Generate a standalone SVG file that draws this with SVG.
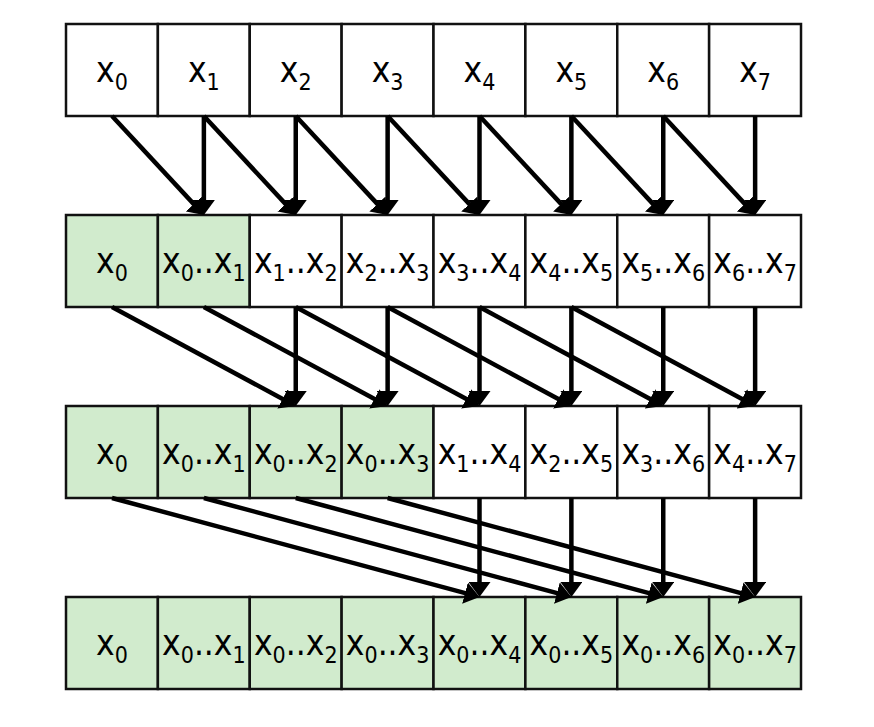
<svg xmlns="http://www.w3.org/2000/svg" width="874" height="727" viewBox="0 0 874 727">
<style>
.c{stroke:#111;stroke-width:2.5;fill:#fff}
.g{fill:#d1ebcd}
text{font-family:"DejaVu Sans Condensed","DejaVu Sans",sans-serif;font-stretch:condensed;font-size:35px;text-anchor:middle;fill:#000}
.s{font-size:23px}
.a line{stroke:#000;stroke-width:4.5;marker-end:url(#ah)}
</style>
<defs>
<marker id="ah" viewBox="0 0 15 22" markerWidth="15" markerHeight="22" refX="7" refY="11" markerUnits="userSpaceOnUse" orient="auto">
<path d="M0,0 L15,11 L0,22 z" fill="#000"/>
</marker>
</defs>
<rect width="874" height="727" fill="#fff"/>

<g id="row1">
<g id="r1c0"><rect class="c" x="66" y="24" width="91.875" height="92"/><text x="112" y="82">x<tspan class="s" dy="8">0</tspan></text></g>
<g id="r1c1"><rect class="c" x="157.875" y="24" width="91.875" height="92"/><text x="203.875" y="82">x<tspan class="s" dy="8">1</tspan></text></g>
<g id="r1c2"><rect class="c" x="249.75" y="24" width="91.875" height="92"/><text x="295.75" y="82">x<tspan class="s" dy="8">2</tspan></text></g>
<g id="r1c3"><rect class="c" x="341.625" y="24" width="91.875" height="92"/><text x="387.625" y="82">x<tspan class="s" dy="8">3</tspan></text></g>
<g id="r1c4"><rect class="c" x="433.5" y="24" width="91.875" height="92"/><text x="479.5" y="82">x<tspan class="s" dy="8">4</tspan></text></g>
<g id="r1c5"><rect class="c" x="525.375" y="24" width="91.875" height="92"/><text x="571.375" y="82">x<tspan class="s" dy="8">5</tspan></text></g>
<g id="r1c6"><rect class="c" x="617.25" y="24" width="91.875" height="92"/><text x="663.25" y="82">x<tspan class="s" dy="8">6</tspan></text></g>
<g id="r1c7"><rect class="c" x="709.125" y="24" width="91.875" height="92"/><text x="755.125" y="82">x<tspan class="s" dy="8">7</tspan></text></g>
</g>

<g id="row2">
<g id="r2c0"><rect class="c g" x="66" y="215" width="91.875" height="92"/><text x="112" y="273">x<tspan class="s" dy="8">0</tspan></text></g>
<g id="r2c1"><rect class="c g" x="157.875" y="215" width="91.875" height="92"/><text x="203.875" y="273">x<tspan class="s" dy="8">0</tspan><tspan dy="-8">..x</tspan><tspan class="s" dy="8">1</tspan></text></g>
<g id="r2c2"><rect class="c" x="249.75" y="215" width="91.875" height="92"/><text x="295.75" y="273">x<tspan class="s" dy="8">1</tspan><tspan dy="-8">..x</tspan><tspan class="s" dy="8">2</tspan></text></g>
<g id="r2c3"><rect class="c" x="341.625" y="215" width="91.875" height="92"/><text x="387.625" y="273">x<tspan class="s" dy="8">2</tspan><tspan dy="-8">..x</tspan><tspan class="s" dy="8">3</tspan></text></g>
<g id="r2c4"><rect class="c" x="433.5" y="215" width="91.875" height="92"/><text x="479.5" y="273">x<tspan class="s" dy="8">3</tspan><tspan dy="-8">..x</tspan><tspan class="s" dy="8">4</tspan></text></g>
<g id="r2c5"><rect class="c" x="525.375" y="215" width="91.875" height="92"/><text x="571.375" y="273">x<tspan class="s" dy="8">4</tspan><tspan dy="-8">..x</tspan><tspan class="s" dy="8">5</tspan></text></g>
<g id="r2c6"><rect class="c" x="617.25" y="215" width="91.875" height="92"/><text x="663.25" y="273">x<tspan class="s" dy="8">5</tspan><tspan dy="-8">..x</tspan><tspan class="s" dy="8">6</tspan></text></g>
<g id="r2c7"><rect class="c" x="709.125" y="215" width="91.875" height="92"/><text x="755.125" y="273">x<tspan class="s" dy="8">6</tspan><tspan dy="-8">..x</tspan><tspan class="s" dy="8">7</tspan></text></g>
</g>

<g id="row3">
<g id="r3c0"><rect class="c g" x="66" y="406" width="91.875" height="92"/><text x="112" y="464">x<tspan class="s" dy="8">0</tspan></text></g>
<g id="r3c1"><rect class="c g" x="157.875" y="406" width="91.875" height="92"/><text x="203.875" y="464">x<tspan class="s" dy="8">0</tspan><tspan dy="-8">..x</tspan><tspan class="s" dy="8">1</tspan></text></g>
<g id="r3c2"><rect class="c g" x="249.75" y="406" width="91.875" height="92"/><text x="295.75" y="464">x<tspan class="s" dy="8">0</tspan><tspan dy="-8">..x</tspan><tspan class="s" dy="8">2</tspan></text></g>
<g id="r3c3"><rect class="c g" x="341.625" y="406" width="91.875" height="92"/><text x="387.625" y="464">x<tspan class="s" dy="8">0</tspan><tspan dy="-8">..x</tspan><tspan class="s" dy="8">3</tspan></text></g>
<g id="r3c4"><rect class="c" x="433.5" y="406" width="91.875" height="92"/><text x="479.5" y="464">x<tspan class="s" dy="8">1</tspan><tspan dy="-8">..x</tspan><tspan class="s" dy="8">4</tspan></text></g>
<g id="r3c5"><rect class="c" x="525.375" y="406" width="91.875" height="92"/><text x="571.375" y="464">x<tspan class="s" dy="8">2</tspan><tspan dy="-8">..x</tspan><tspan class="s" dy="8">5</tspan></text></g>
<g id="r3c6"><rect class="c" x="617.25" y="406" width="91.875" height="92"/><text x="663.25" y="464">x<tspan class="s" dy="8">3</tspan><tspan dy="-8">..x</tspan><tspan class="s" dy="8">6</tspan></text></g>
<g id="r3c7"><rect class="c" x="709.125" y="406" width="91.875" height="92"/><text x="755.125" y="464">x<tspan class="s" dy="8">4</tspan><tspan dy="-8">..x</tspan><tspan class="s" dy="8">7</tspan></text></g>
</g>

<g id="row4">
<g id="r4c0"><rect class="c g" x="66" y="597" width="91.875" height="92"/><text x="112" y="655">x<tspan class="s" dy="8">0</tspan></text></g>
<g id="r4c1"><rect class="c g" x="157.875" y="597" width="91.875" height="92"/><text x="203.875" y="655">x<tspan class="s" dy="8">0</tspan><tspan dy="-8">..x</tspan><tspan class="s" dy="8">1</tspan></text></g>
<g id="r4c2"><rect class="c g" x="249.75" y="597" width="91.875" height="92"/><text x="295.75" y="655">x<tspan class="s" dy="8">0</tspan><tspan dy="-8">..x</tspan><tspan class="s" dy="8">2</tspan></text></g>
<g id="r4c3"><rect class="c g" x="341.625" y="597" width="91.875" height="92"/><text x="387.625" y="655">x<tspan class="s" dy="8">0</tspan><tspan dy="-8">..x</tspan><tspan class="s" dy="8">3</tspan></text></g>
<g id="r4c4"><rect class="c g" x="433.5" y="597" width="91.875" height="92"/><text x="479.5" y="655">x<tspan class="s" dy="8">0</tspan><tspan dy="-8">..x</tspan><tspan class="s" dy="8">4</tspan></text></g>
<g id="r4c5"><rect class="c g" x="525.375" y="597" width="91.875" height="92"/><text x="571.375" y="655">x<tspan class="s" dy="8">0</tspan><tspan dy="-8">..x</tspan><tspan class="s" dy="8">5</tspan></text></g>
<g id="r4c6"><rect class="c g" x="617.25" y="597" width="91.875" height="92"/><text x="663.25" y="655">x<tspan class="s" dy="8">0</tspan><tspan dy="-8">..x</tspan><tspan class="s" dy="8">6</tspan></text></g>
<g id="r4c7"><rect class="c g" x="709.125" y="597" width="91.875" height="92"/><text x="755.125" y="655">x<tspan class="s" dy="8">0</tspan><tspan dy="-8">..x</tspan><tspan class="s" dy="8">7</tspan></text></g>
</g>

<g id="connectors" class="a">
<line x1="112" y1="116" x2="198.44" y2="209.14"/>
<line x1="203.875" y1="116" x2="290.31" y2="209.14"/>
<line x1="295.75" y1="116" x2="382.19" y2="209.14"/>
<line x1="387.625" y1="116" x2="474.06" y2="209.14"/>
<line x1="479.5" y1="116" x2="565.94" y2="209.14"/>
<line x1="571.375" y1="116" x2="657.81" y2="209.14"/>
<line x1="663.25" y1="116" x2="749.69" y2="209.14"/>
<line x1="203.875" y1="116" x2="203.875" y2="207"/>
<line x1="295.75" y1="116" x2="295.75" y2="207"/>
<line x1="387.625" y1="116" x2="387.625" y2="207"/>
<line x1="479.5" y1="116" x2="479.5" y2="207"/>
<line x1="571.375" y1="116" x2="571.375" y2="207"/>
<line x1="663.25" y1="116" x2="663.25" y2="207"/>
<line x1="755.125" y1="116" x2="755.125" y2="207"/>

<line x1="112" y1="307" x2="288.71" y2="402.21"/>
<line x1="203.875" y1="307" x2="380.59" y2="402.21"/>
<line x1="295.75" y1="307" x2="472.46" y2="402.21"/>
<line x1="387.625" y1="307" x2="564.34" y2="402.21"/>
<line x1="479.5" y1="307" x2="656.21" y2="402.21"/>
<line x1="571.375" y1="307" x2="748.09" y2="402.21"/>
<line x1="295.75" y1="307" x2="295.75" y2="398"/>
<line x1="387.625" y1="307" x2="387.625" y2="398"/>
<line x1="479.5" y1="307" x2="479.5" y2="398"/>
<line x1="571.375" y1="307" x2="571.375" y2="398"/>
<line x1="663.25" y1="307" x2="663.25" y2="398"/>
<line x1="755.125" y1="307" x2="755.125" y2="398"/>

<line x1="112" y1="498" x2="471.78" y2="594.92"/>
<line x1="203.875" y1="498" x2="563.66" y2="594.92"/>
<line x1="295.75" y1="498" x2="655.53" y2="594.92"/>
<line x1="387.625" y1="498" x2="747.41" y2="594.92"/>
<line x1="479.5" y1="498" x2="479.5" y2="589"/>
<line x1="571.375" y1="498" x2="571.375" y2="589"/>
<line x1="663.25" y1="498" x2="663.25" y2="589"/>
<line x1="755.125" y1="498" x2="755.125" y2="589"/>
</g>
</svg>
